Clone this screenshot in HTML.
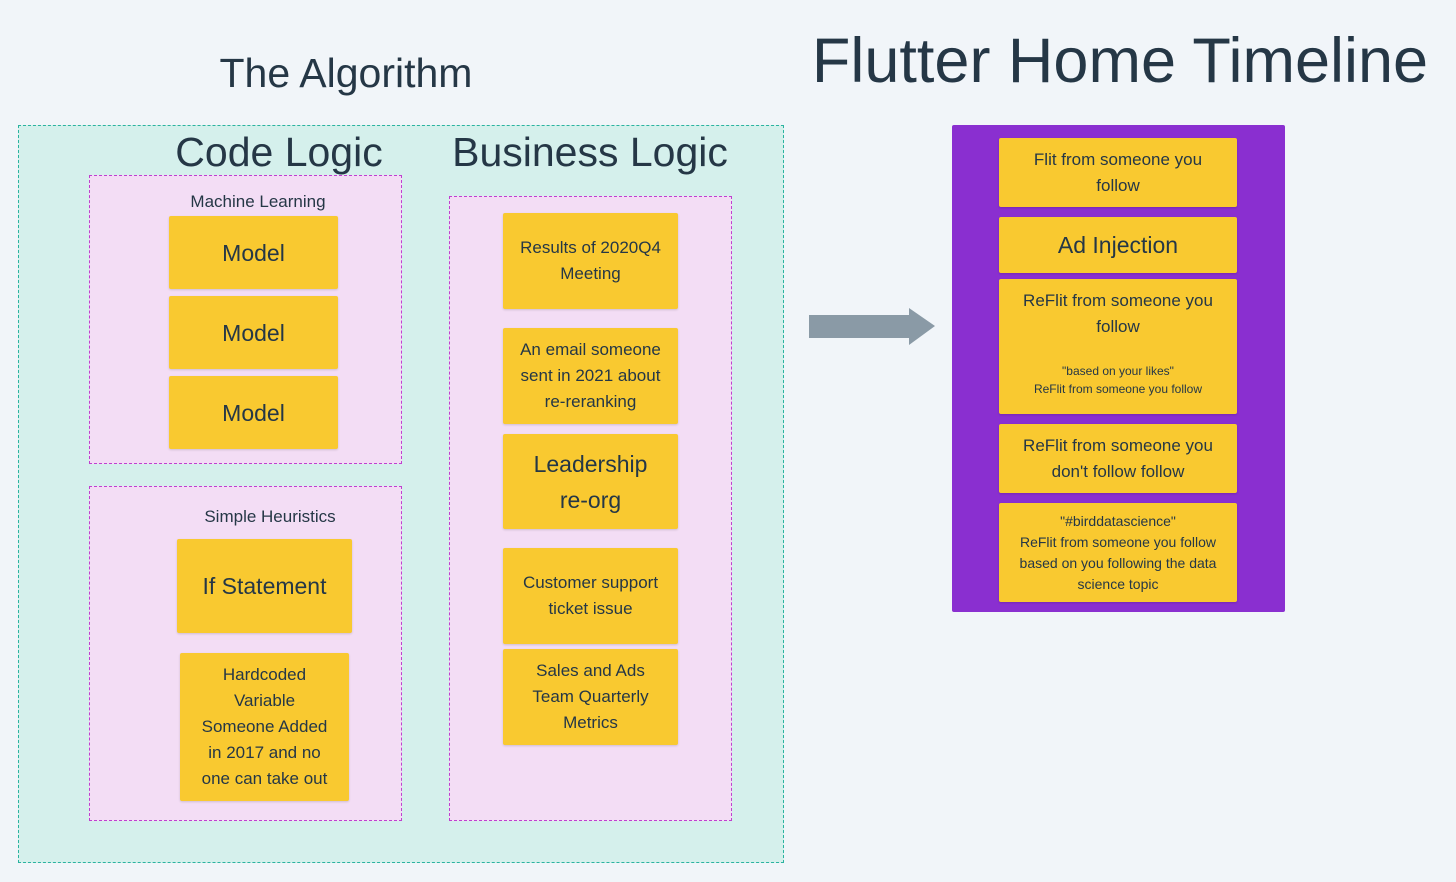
<!DOCTYPE html>
<html><head><meta charset="utf-8"><style>
body{margin:0;width:1456px;height:882px;background:#f1f5f9;position:relative;overflow:hidden;font-family:"Liberation Sans","DejaVu Sans",sans-serif;color:#253746}
.a{position:absolute}
.t{position:absolute;text-align:center;white-space:nowrap}
.n{position:absolute;background:#f9c930;border-radius:2px;box-shadow:0 1px 2px rgba(0,0,0,.15);display:flex;align-items:center;justify-content:center;text-align:center;font-size:17px;line-height:26px}
</style></head><body>
<div class="t" style="left:146px;width:400px;top:50px;font-size:41px;line-height:46px">The Algorithm</div>
<div class="t" style="left:790px;width:660px;top:26px;font-size:63px;line-height:70px">Flutter Home Timeline</div>

<div class="a" style="left:18px;top:125px;width:764px;height:736px;background:#d5f0ec;border:1px dashed #2bb3a0"></div>
<div class="t" style="left:129px;width:300px;top:128px;font-size:41px;line-height:48px">Code Logic</div>
<div class="t" style="left:420px;width:340px;top:128px;font-size:41px;line-height:48px">Business Logic</div>

<div class="a" style="left:89px;top:175px;width:311px;height:287px;background:#f3ddf5;border:1px dashed #c040d0"></div>
<div class="t" style="left:108px;width:300px;top:191px;font-size:17px;line-height:22px">Machine Learning</div>
<div class="n" style="left:169px;top:216px;width:169px;height:73px;font-size:23px">Model</div>
<div class="n" style="left:169px;top:296px;width:169px;height:73px;font-size:23px">Model</div>
<div class="n" style="left:169px;top:376px;width:169px;height:73px;font-size:23px">Model</div>

<div class="a" style="left:89px;top:486px;width:311px;height:333px;background:#f3ddf5;border:1px dashed #c040d0"></div>
<div class="t" style="left:120px;width:300px;top:506px;font-size:17px;line-height:22px">Simple Heuristics</div>
<div class="n" style="left:177px;top:539px;width:175px;height:94px;font-size:23px">If Statement</div>
<div class="n" style="left:180px;top:653px;width:169px;height:148px">Hardcoded<br>Variable<br>Someone Added<br>in 2017 and no<br>one can take out</div>

<div class="a" style="left:449px;top:196px;width:281px;height:623px;background:#f3ddf5;border:1px dashed #c040d0"></div>
<div class="n" style="left:503px;top:213px;width:175px;height:96px">Results of 2020Q4<br>Meeting</div>
<div class="n" style="left:503px;top:328px;width:175px;height:96px">An email someone<br>sent in 2021 about<br>re-reranking</div>
<div class="n" style="left:503px;top:434px;width:175px;height:95px;font-size:23px;line-height:36px">Leadership<br>re-org</div>
<div class="n" style="left:503px;top:548px;width:175px;height:96px">Customer support<br>ticket issue</div>
<div class="n" style="left:503px;top:649px;width:175px;height:96px">Sales and Ads<br>Team Quarterly<br>Metrics</div>

<svg class="a" style="left:0;top:0" width="1456" height="882"><polygon points="809,315 909,315 909,308 935,326 909,345 909,338 809,338" fill="#8a9aa6"/></svg>

<div class="a" style="left:952px;top:125px;width:333px;height:487px;background:#8a2fd0;border-radius:2px"></div>
<div class="n" style="left:999px;top:138px;width:238px;height:69px">Flit from someone you<br>follow</div>
<div class="n" style="left:999px;top:217px;width:238px;height:56px;font-size:23px">Ad Injection</div>
<div class="n" style="left:999px;top:279px;width:238px;height:135px;display:block">
<div style="padding-top:9px">ReFlit from someone you<br>follow</div>
<div style="font-size:12px;line-height:18px;margin-top:22px">"based on your likes"<br>ReFlit from someone you follow</div></div>
<div class="n" style="left:999px;top:424px;width:238px;height:69px">ReFlit from someone you<br>don't follow follow</div>
<div class="n" style="left:999px;top:503px;width:238px;height:99px;font-size:14px;line-height:21px">"#birddatascience"<br>ReFlit from someone you follow<br>based on you following the data<br>science topic</div>
</body></html>
